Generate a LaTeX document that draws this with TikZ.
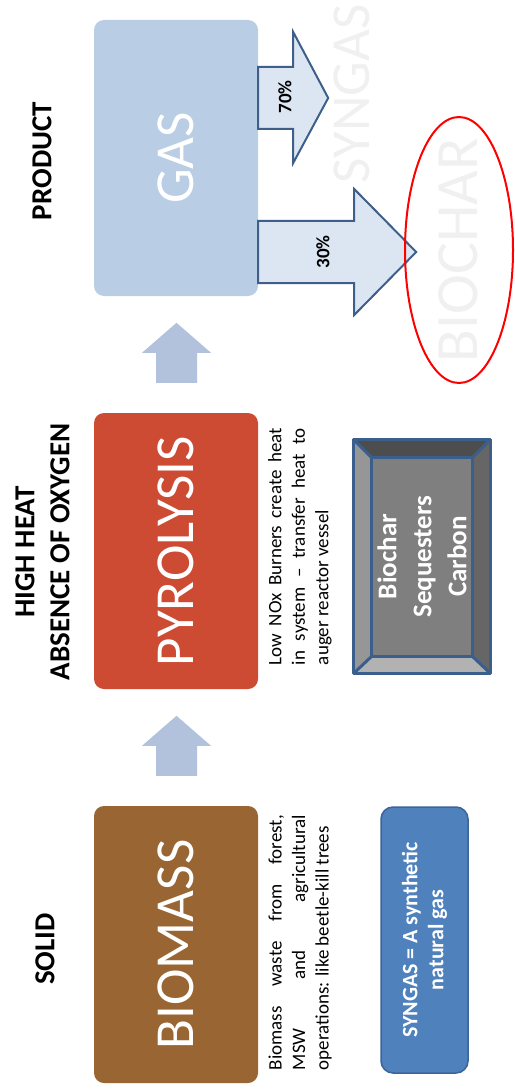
\documentclass[tikz,border=0pt]{standalone}
\usepackage{fontspec}
\setmainfont{Carlito}
\usetikzlibrary{calc,shapes.geometric}
\definecolor{gasfill}{HTML}{B9CDE5}
\definecolor{pyrofill}{HTML}{CD4A33}
\definecolor{biofill}{HTML}{996633}
\definecolor{upfill}{HTML}{B2C2DD}
\definecolor{rfill}{HTML}{DCE6F2}
\definecolor{rline}{HTML}{3E5F8A}
\definecolor{synfill}{HTML}{4F81BD}
\definecolor{synline}{HTML}{3B6497}
\definecolor{ghost}{HTML}{F0F0F0}
\definecolor{bevtop}{HTML}{4D4D4D}
\definecolor{bevleft}{HTML}{969696}
\definecolor{bevright}{HTML}{666666}
\definecolor{bevbot}{HTML}{B2B2B2}
\definecolor{bevmid}{HTML}{7F7F7F}
\definecolor{bevline}{HTML}{3B5F8C}
\begin{document}
\begin{tikzpicture}[x=1pt,y=-1pt,
  bigbox/.style={rounded corners=10pt, minimum width=164pt, minimum height=276pt, inner sep=0pt, text=white, font=\fontsize{55}{66}\selectfont},
  hdr/.style={rotate=90, font=\bfseries\fontsize{29}{35}\selectfont, inner sep=0pt},
  desc/.style={rotate=90, font=\fontsize{19}{23.5}\selectfont, align=left, inner sep=0pt},
  pct/.style={rotate=90, font=\bfseries\fontsize{19}{23}\selectfont, inner sep=0pt},
  ghosttext/.style={rotate=90, text=ghost, inner sep=0pt},
  rarr/.style={fill=rfill, draw=rline, line width=2pt, line join=miter},
  uparrowpic/.pic={\fill[upfill] (-20.5,0) -- (-20.5,-30) -- (-34.5,-30) -- (0,-60) -- (34.5,-30) -- (20.5,-30) -- (20.5,0) -- cycle;}
]
\useasboundingbox (0,0) rectangle (514,1091);

% main boxes
\node[bigbox, fill=gasfill] (gas) at (176,158) {\rotatebox{90}{GAS}};
\node[bigbox, fill=pyrofill] (pyro) at (176,551) {\rotatebox{90}{PYROLYSIS}};
\node[bigbox, fill=biofill, minimum height=277pt] (bio) at (176,944.5) {\rotatebox{90}{BIOMASS}};

% up arrows
\pic at ($(pyro.north)+(0.5,-30)$) {uparrowpic};
\pic at ($(bio.north)+(0.5,-30)$) {uparrowpic};

% ghost product labels
\node[ghosttext, font=\fontsize{55}{66}\selectfont] (synghost) at (352,94) {SYNGAS};
\node[ghosttext, font=\fontsize{60}{72}\selectfont] (charghost) at (458,250) {BIOCHAR};

% right arrows
\draw[rarr] ($(gas.east)+(0,-91)$) -- ++(35,0) -- ++(0,-35) -- ++(35,66) -- ++(-35,65) -- ++(0,-34) -- ++(-35,0) -- cycle;
\draw[rarr] ($(gas.east)+(0,63)$) -- ++(96,0) -- ++(0,-32) -- ++(62,63) -- ++(-62,63) -- ++(0,-32) -- ++(-96,0) -- cycle;
\node[pct] (p70) at (285,97) {70\%};
\node[pct] (p30) at (323,252) {30\%};

% red ellipse
\node[draw=red, line width=2pt, ellipse, minimum width=108pt, minimum height=266pt, inner sep=0pt] (ell) at (459,250) {};

% headers
\node[hdr] (product) at (42,161) {PRODUCT};
\node[hdr, align=center] (heat) at (42.5,552) {HIGH HEAT\\ABSENCE OF OXYGEN};
\node[hdr] (solid) at (45,949) {SOLID};

% descriptions
\node[desc] (lownox) at (300,546.5) {\makebox[237pt][s]{Low NOx Burners create heat}\\\makebox[237pt][s]{in system – transfer heat to}\\auger reactor vessel};
\node[desc] (biodesc) at (300,942.5) {\makebox[255pt][s]{Biomass waste from forest,}\\\makebox[255pt][s]{MSW and agricultural}\\operations: like beetle-kill trees};

% bevel box
\node[minimum width=136pt, minimum height=233pt, inner sep=0pt, fill=bevmid] (seq) at (422,556.5) {};
\coordinate (inw) at ($(seq.north west)+(18,18)$);
\coordinate (ine) at ($(seq.north east)+(-18,18)$);
\coordinate (isw) at ($(seq.south west)+(18,-17)$);
\coordinate (ise) at ($(seq.south east)+(-18,-17)$);
\fill[bevtop] (seq.north west) -- (seq.north east) -- (ine) -- (inw) -- cycle;
\fill[bevleft] (seq.north west) -- (inw) -- (isw) -- (seq.south west) -- cycle;
\fill[bevright] (seq.north east) -- (seq.south east) -- (ise) -- (ine) -- cycle;
\fill[bevbot] (seq.south west) -- (seq.south east) -- (ise) -- (isw) -- cycle;
\draw[bevline, line width=3pt, line join=round] (seq.north west) rectangle (seq.south east);
\draw[bevline, line width=3pt, line join=round] (inw) rectangle (ise);
\draw[bevline, line width=3pt] (seq.north west) -- (inw) (seq.north east) -- (ine) (seq.south west) -- (isw) (seq.south east) -- (ise);
\node[rotate=90, text=white, font=\bfseries\fontsize{27}{35}\selectfont, align=center, inner sep=0pt] (seqtext) at (seq.center) {Biochar\\Sequesters\\Carbon};

% syngas definition box
\node[rotate=90, minimum width=266pt, minimum height=87pt, rounded corners=12pt, fill=synfill, draw=synline, line width=1.5pt, text=white, font=\bfseries\fontsize{22}{26}\selectfont, align=center, inner sep=0pt] (syn) at (424.5,940) {SYNGAS = A synthetic\\natural gas};
\end{tikzpicture}
\end{document}
